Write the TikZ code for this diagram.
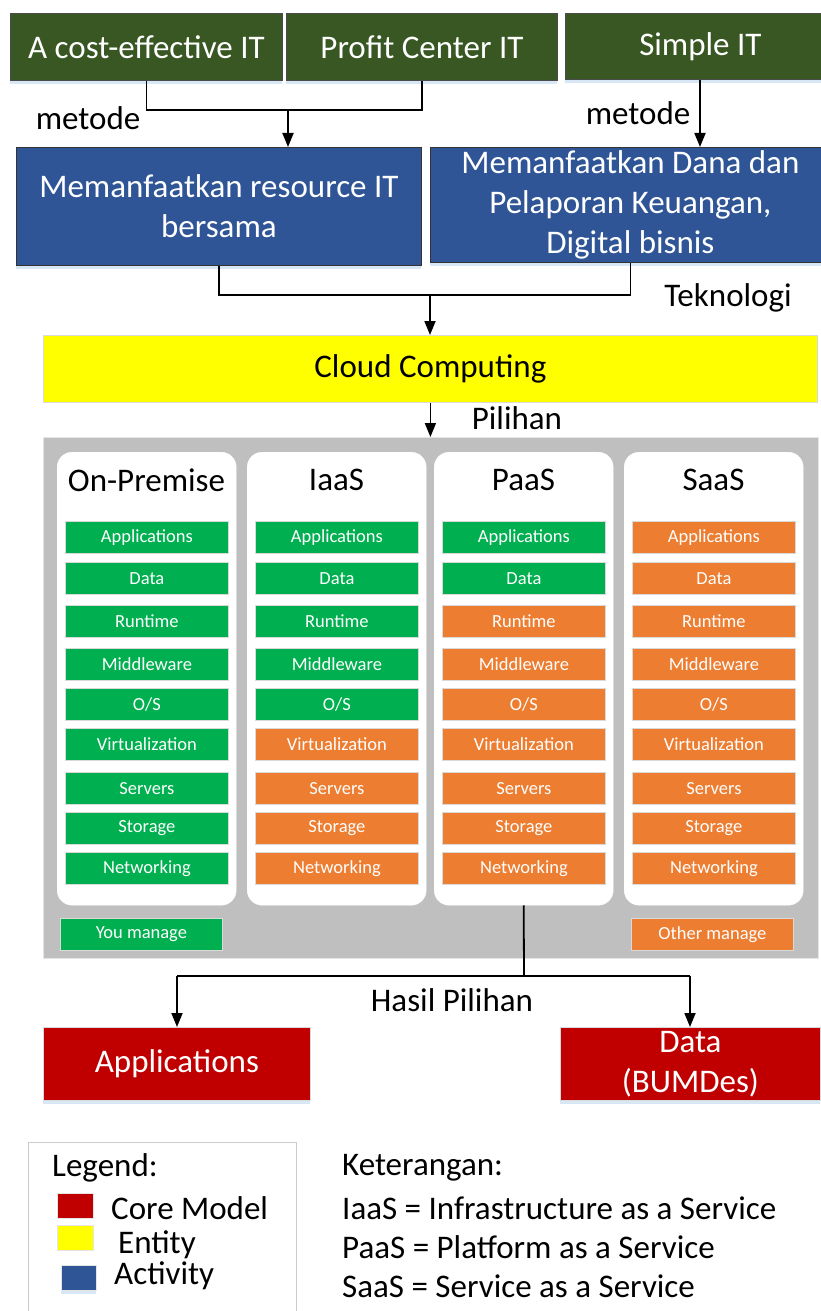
\documentclass[tikz,border=0pt]{standalone}
\usepackage{fontspec}
\setmainfont{Carlito}
\usetikzlibrary{arrows.meta,shadows}

\definecolor{topgreen}{HTML}{385723}
\definecolor{actblue}{HTML}{2F5597}
\definecolor{entyellow}{HTML}{FFFF00}
\definecolor{corered}{HTML}{C00000}
\definecolor{panelgray}{HTML}{BFBFBF}
\definecolor{yougreen}{HTML}{00B050}
\definecolor{otherorange}{HTML}{ED7D31}
\definecolor{glow}{HTML}{BDD7EE}

\newcommand\bigtxt{\fontsize{33}{40}\selectfont}
\newcommand\smalltxt{\fontsize{18.5}{20}\selectfont}

\tikzset{
  box/.style={anchor=north west, inner sep=0pt, align=center, text=white, font=\bigtxt},
  glowshadow/.style={drop shadow={shadow xshift=0pt, shadow yshift=-4pt, fill=glow, opacity=0.6}},
  topbox/.style={box, fill=topgreen, draw=black!70, line width=0.8pt, glowshadow},
  actbox/.style={box, fill=actblue, draw=black!80, line width=0.8pt, glowshadow},
  corebox/.style={box, fill=corered, draw=black!15, line width=0.8pt, glowshadow},
  layerbox/.style={anchor=north west, inner sep=0pt, minimum width=163pt, minimum height=32pt,
    draw=white!85!black, line width=0.8pt, text=white, font=\smalltxt},
  column/.style={anchor=north west, fill=white, draw=white, rounded corners=15pt,
    minimum width=179pt, minimum height=453pt, inner sep=0pt},
  coltitle/.style={font=\bigtxt, text=black},
  lbl/.style={font=\bigtxt, text=black, inner sep=0pt},
  link/.style={line width=1.8pt, draw=black},
  arr/.style={link, -{Triangle[length=14pt,width=11pt]}},
}

\begin{document}
\begin{tikzpicture}[x=1pt, y=-1pt]
\useasboundingbox (0,0) rectangle (820,1311);

% goals
\node[topbox, minimum width=272pt, minimum height=67pt] (g1) at (10,13) {A cost-effective IT};
\node[topbox, minimum width=271pt, minimum height=67pt] (g2) at (286,13) {Profit Center IT};
\node[topbox, minimum width=270pt, minimum height=66pt] (g3) at (565,13) {Simple IT};

% activities
\node[actbox, minimum width=405pt, minimum height=118pt] (b1) at (16,147) {Memanfaatkan resource IT\\bersama};
\node[actbox, minimum width=400pt, minimum height=115pt] (b2) at (430,147) {Memanfaatkan Dana dan\\Pelaporan Keuangan,\\Digital bisnis};

% entity
\node[box, fill=entyellow, draw=black!15, line width=0.8pt, text=black,
      minimum width=774pt, minimum height=67pt] (cc) at (43,335) {Cloud Computing};

% service model panel
\node[anchor=north west, fill=panelgray, draw=white!90!black, inner sep=0pt,
      minimum width=775pt, minimum height=521pt] (panel) at (43,437) {};

\node[column] (k1) at (57,452) {};
\node[column] (k2) at (247,452) {};
\node[column] (k3) at (434,452) {};
\node[column] (k4) at (624,452) {};

\node[coltitle] (t1) at (146.5,480) {On-Premise};
\node[coltitle] (t2) at (336.5,480) {IaaS};
\node[coltitle] (t3) at (523.5,480) {PaaS};
\node[coltitle] (t4) at (713.5,480) {SaaS};

% layers: the first \ng rows of each column are managed by you
\foreach \c/\xl/\ng in {1/65/9, 2/255/5, 3/442/2, 4/632/0}{
  \foreach \r/\yt/\t in {1/521/Applications, 2/562/Data, 3/605/Runtime,
                         4/648/Middleware, 5/688/{O/S}, 6/728/Virtualization,
                         7/772/Servers, 8/812/Storage, 9/852/Networking}{
    \ifnum\r>\ng \def\fc{otherorange}\else\def\fc{yougreen}\fi
    \node[layerbox, fill=\fc] (c\c r\r) at (\xl,\yt) {\t};
  }
}

\node[layerbox, fill=yougreen, minimum width=162pt] (you) at (60,918) {You manage};
\node[layerbox, fill=otherorange, minimum width=162pt] (other) at (631,918) {Other manage};

% core models
\node[corebox, minimum width=267pt, minimum height=73pt] (r1) at (43,1027) {Applications};
\node[corebox, minimum width=260pt, minimum height=73pt] (r2) at (560,1027) {Data\\(BUMDes)};

% connectors
\coordinate (j1) at (288,110);
\draw[link] (g1.south) -- (g1.south |- j1) -- (g2.south |- j1) -- (g2.south);
\draw[arr] (j1) -- (j1 |- b1.north);
\coordinate (j2) at (700,0);
\draw[arr] (j2 |- g3.south) -- (j2 |- b2.north);

\coordinate (j3) at (430,295);
\draw[link] (b1.south) -- (b1.south |- j3) -- (b2.south |- j3) -- (b2.south);
\draw[arr] (j3) -- (j3 |- cc.north);
\draw[arr] (cc.south) -- (cc.south |- panel.north);

\coordinate (j4) at (524,976);
\coordinate (a1) at (177,976);
\coordinate (a2) at (690,976);
\draw[link] (k3.south) -- (j4);
\draw[link] (a1) -- (a2);
\draw[arr] (a1) -- (a1 |- r1.north);
\draw[arr] (a2) -- (a2 |- r2.north);

% connector labels
\node[lbl] (m1) at (88,118) {metode};
\node[lbl] (m2) at (638,113) {metode};
\node[lbl] (tk) at (728,298) {Teknologi};
\node[lbl] (pl) at (517,418) {Pilihan};
\node[lbl] (hp) at (452,1000) {Hasil Pilihan};

% legend
\node[anchor=north west, draw=black!20, fill=white, inner sep=0pt,
      minimum width=268pt, minimum height=190pt] (leg) at (28,1142) {};
\node[lbl, anchor=west] (legt) at (52,1168) {Legend:};
\node[anchor=north west, fill=corered, draw=black!10, inner sep=0pt, minimum width=36pt, minimum height=25pt] (sq1) at (57,1193) {};
\node[anchor=north west, fill=entyellow, draw=black!10, inner sep=0pt, minimum width=36pt, minimum height=25pt] (sq2) at (57,1225) {};
\node[anchor=north west, fill=actblue, draw=black!10, inner sep=0pt, minimum width=35pt, minimum height=25pt, glowshadow] (sq3) at (61,1265) {};
\node[lbl, anchor=west] (l1) at (111,1208) {Core Model};
\node[lbl, anchor=west] (l2) at (118,1245) {Entity};
\node[lbl, anchor=west] (l3) at (114,1276) {Activity};

% notes
\node[lbl, anchor=west] (n0) at (342,1168) {Keterangan:};
\node[lbl, anchor=west] (n1) at (342,1208) {IaaS = Infrastructure as a Service};
\node[lbl, anchor=west] (n2) at (342,1247) {PaaS = Platform as a Service};
\node[lbl, anchor=west] (n3) at (342,1286) {SaaS = Service as a Service};
\end{tikzpicture}
\end{document}
